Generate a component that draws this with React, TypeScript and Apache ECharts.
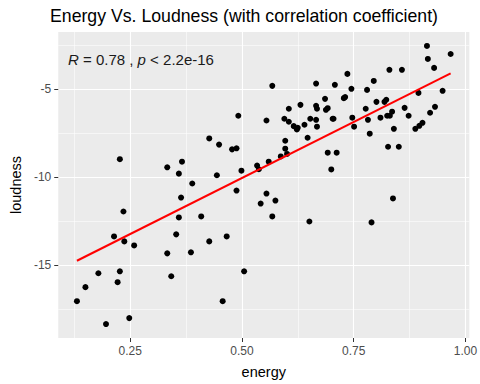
import React, { useEffect, useRef } from "react";
import * as echarts from "echarts";

const energy = [
  0.131, 0.150, 0.179, 0.196, 0.214, 0.222, 0.227, 0.227, 0.235, 0.237,
  0.248, 0.259, 0.333, 0.333, 0.342, 0.353, 0.359, 0.359, 0.364, 0.366,
  0.386, 0.389, 0.409, 0.427, 0.427, 0.444, 0.449, 0.457, 0.466, 0.478,
  0.488, 0.488, 0.492, 0.499, 0.505, 0.534, 0.538, 0.542, 0.555, 0.555,
  0.560, 0.568, 0.568, 0.575, 0.587, 0.595, 0.597, 0.597, 0.601, 0.605,
  0.605, 0.616, 0.623, 0.625, 0.631, 0.640, 0.647, 0.651, 0.653, 0.666,
  0.666, 0.668, 0.666, 0.668, 0.686, 0.688, 0.692, 0.692, 0.700, 0.703,
  0.705, 0.708, 0.712, 0.728, 0.731, 0.736, 0.745, 0.747, 0.751, 0.777,
  0.780, 0.782, 0.786, 0.790, 0.795, 0.801, 0.810, 0.819, 0.823, 0.825,
  0.831, 0.827, 0.830, 0.836, 0.838, 0.840, 0.851, 0.858, 0.864, 0.873,
  0.888, 0.897, 0.904, 0.895, 0.914, 0.916, 0.921, 0.930, 0.932, 0.949,
  0.967,
];

const loudness = [
  -17.07, -16.27, -15.48, -18.37, -13.39, -15.99, -15.37, -9.0, -11.97, -13.67,
  -18.03, -13.9, -14.35, -9.46, -15.65, -13.27, -12.31, -9.82, -11.18, -9.14,
  -14.29, -10.38, -12.25, -13.67, -7.82, -9.91, -8.17, -17.07, -13.39, -8.44,
  -8.38, -10.78, -6.53, -9.65, -15.37, -9.36, -9.57, -11.52, -6.8, -10.95,
  -9.14, -4.83, -12.25, -11.35, -8.84, -6.7, -7.95, -8.4, -8.7, -6.87,
  -6.13, -7.12, -7.31, -7.21, -5.91, -7.04, -7.78, -12.54, -6.7, -4.7,
  -5.96, -6.13, -6.76, -7.15, -5.57, -6.19, -6.1, -8.63, -9.58, -6.7,
  -6.7, -4.77, -8.63, -5.53, -5.47, -4.15, -5.0, -6.64, -7.15, -6.13,
  -5.06, -6.76, -7.55, -12.59, -4.55, -5.74, -6.64, -5.74, -5.62, -6.53,
  -6.53, -8.29, -3.92, -6.3, -11.23, -7.27, -8.29, -3.92, -6.08, -6.53,
  -7.27, -7.1, -6.93, -5.23, -2.56, -3.3, -6.36, -3.81, -6.02, -5.11,
  -3.02,
];

// Fitted (lm) line, at the ends of the data range
const fitEnergy = [0.131, 0.967];
const fitLoudness = [-14.77, -4.12];

const xMajorTicks = [0.25, 0.5, 0.75, 1.0];
const xMinorTicks = [0.125, 0.375, 0.625, 0.875];
const yMajorTicks = [-15, -10, -5];
const yMinorTicks = [-17.5, -12.5, -7.5, -2.5];

const chartTitle = "Energy Vs. Loudness (with correlation coefficient)";
const corrR = "0.78";
const corrP = "2.2e-16";
const xName = "energy";
const yName = "loudness";

const FONT = "'Liberation Sans', Arial, Helvetica, sans-serif";

function expand(vals: number[]) {
  const lo = Math.min(...vals);
  const hi = Math.max(...vals);
  const pad = (hi - lo) * 0.05;
  return [lo - pad, hi + pad];
}

export default function App() {
  const ref = useRef<HTMLDivElement>(null);

  useEffect(() => {
    if (!ref.current) return;
    const chart = echarts.init(ref.current, null, { renderer: "svg" });

    const points = energy.map((e, i) => [e, loudness[i]]);
    const fitLine = fitEnergy.map((e, i) => [e, fitLoudness[i]]);
    const [xMin, xMax] = expand(energy);
    const [yMin, yMax] = expand(loudness);

    const hiddenAxisParts = {
      axisLine: { show: false },
      axisLabel: { show: false },
    };

    chart.setOption({
      animation: false,
      backgroundColor: "#FFFFFF",
      textStyle: { fontFamily: FONT },
      title: [
        {
          text: chartTitle,
          left: 50,
          top: 7,
          padding: 0,
          textStyle: {
            fontFamily: FONT,
            fontSize: 17.7,
            fontWeight: "normal",
            color: "#000000",
          },
        },
        {
          text: `{i|R} = ${corrR} , {i|p} < ${corrP}`,
          left: 68,
          top: 52,
          padding: 0,
          textStyle: {
            fontFamily: FONT,
            fontSize: 15,
            fontWeight: "normal",
            color: "#1A1A1A",
            rich: {
              i: {
                fontFamily: FONT,
                fontSize: 15,
                fontStyle: "italic",
                color: "#1A1A1A",
              },
            },
          },
        },
      ],
      grid: {
        left: 50,
        right: 8,
        top: 32,
        bottom: 46,
        show: true,
        backgroundColor: "#EBEBEB",
        borderWidth: 0,
      },
      xAxis: [
        {
          type: "value",
          min: xMin,
          max: xMax,
          position: "bottom",
          name: xName,
          nameLocation: "middle",
          nameGap: 26,
          nameTextStyle: { fontFamily: FONT, fontSize: 14.5, color: "#000000" },
          axisLine: { show: false },
          axisTick: {
            show: true,
            length: 4,
            lineStyle: { color: "#333333", width: 1 },
            customValues: xMajorTicks,
          },
          axisLabel: {
            customValues: xMajorTicks,
            formatter: (v: number) => v.toFixed(2),
            color: "#4D4D4D",
            fontSize: 12,
            fontFamily: FONT,
            margin: 7,
          },
          splitLine: { show: true, lineStyle: { color: "#FFFFFF", width: 1.1 } },
        },
        {
          type: "value",
          min: xMin,
          max: xMax,
          position: "top",
          ...hiddenAxisParts,
          axisTick: { show: false, customValues: xMinorTicks },
          splitLine: { show: true, lineStyle: { color: "#FFFFFF", width: 0.55 } },
        },
      ],
      yAxis: [
        {
          type: "value",
          min: yMin,
          max: yMax,
          position: "left",
          name: yName,
          nameLocation: "middle",
          nameGap: 29,
          nameTextStyle: { fontFamily: FONT, fontSize: 14.5, color: "#000000" },
          axisLine: { show: false },
          axisTick: {
            show: true,
            length: 4,
            lineStyle: { color: "#333333", width: 1 },
            customValues: yMajorTicks,
          },
          axisLabel: {
            customValues: yMajorTicks,
            formatter: (v: number) => String(v),
            color: "#4D4D4D",
            fontSize: 12,
            fontFamily: FONT,
            margin: 7,
          },
          splitLine: { show: true, lineStyle: { color: "#FFFFFF", width: 1.1 } },
        },
        {
          type: "value",
          min: yMin,
          max: yMax,
          position: "right",
          ...hiddenAxisParts,
          axisTick: { show: false, customValues: yMinorTicks },
          splitLine: { show: true, lineStyle: { color: "#FFFFFF", width: 0.55 } },
        },
      ],
      series: [
        {
          type: "scatter",
          xAxisIndex: 0,
          yAxisIndex: 0,
          data: points,
          symbol: "circle",
          symbolSize: 6,
          itemStyle: { color: "#000000", opacity: 1 },
          z: 3,
        },
        {
          type: "line",
          xAxisIndex: 0,
          yAxisIndex: 0,
          data: fitLine,
          symbol: "none",
          lineStyle: { color: "#FF0000", width: 2 },
          z: 4,
        },
      ],
    });

    return () => chart.dispose();
  }, []);

  return (
    <div
      ref={ref}
      style={{ position: "fixed", left: 0, top: 0, width: 480, height: 384 }}
    />
  );
}
